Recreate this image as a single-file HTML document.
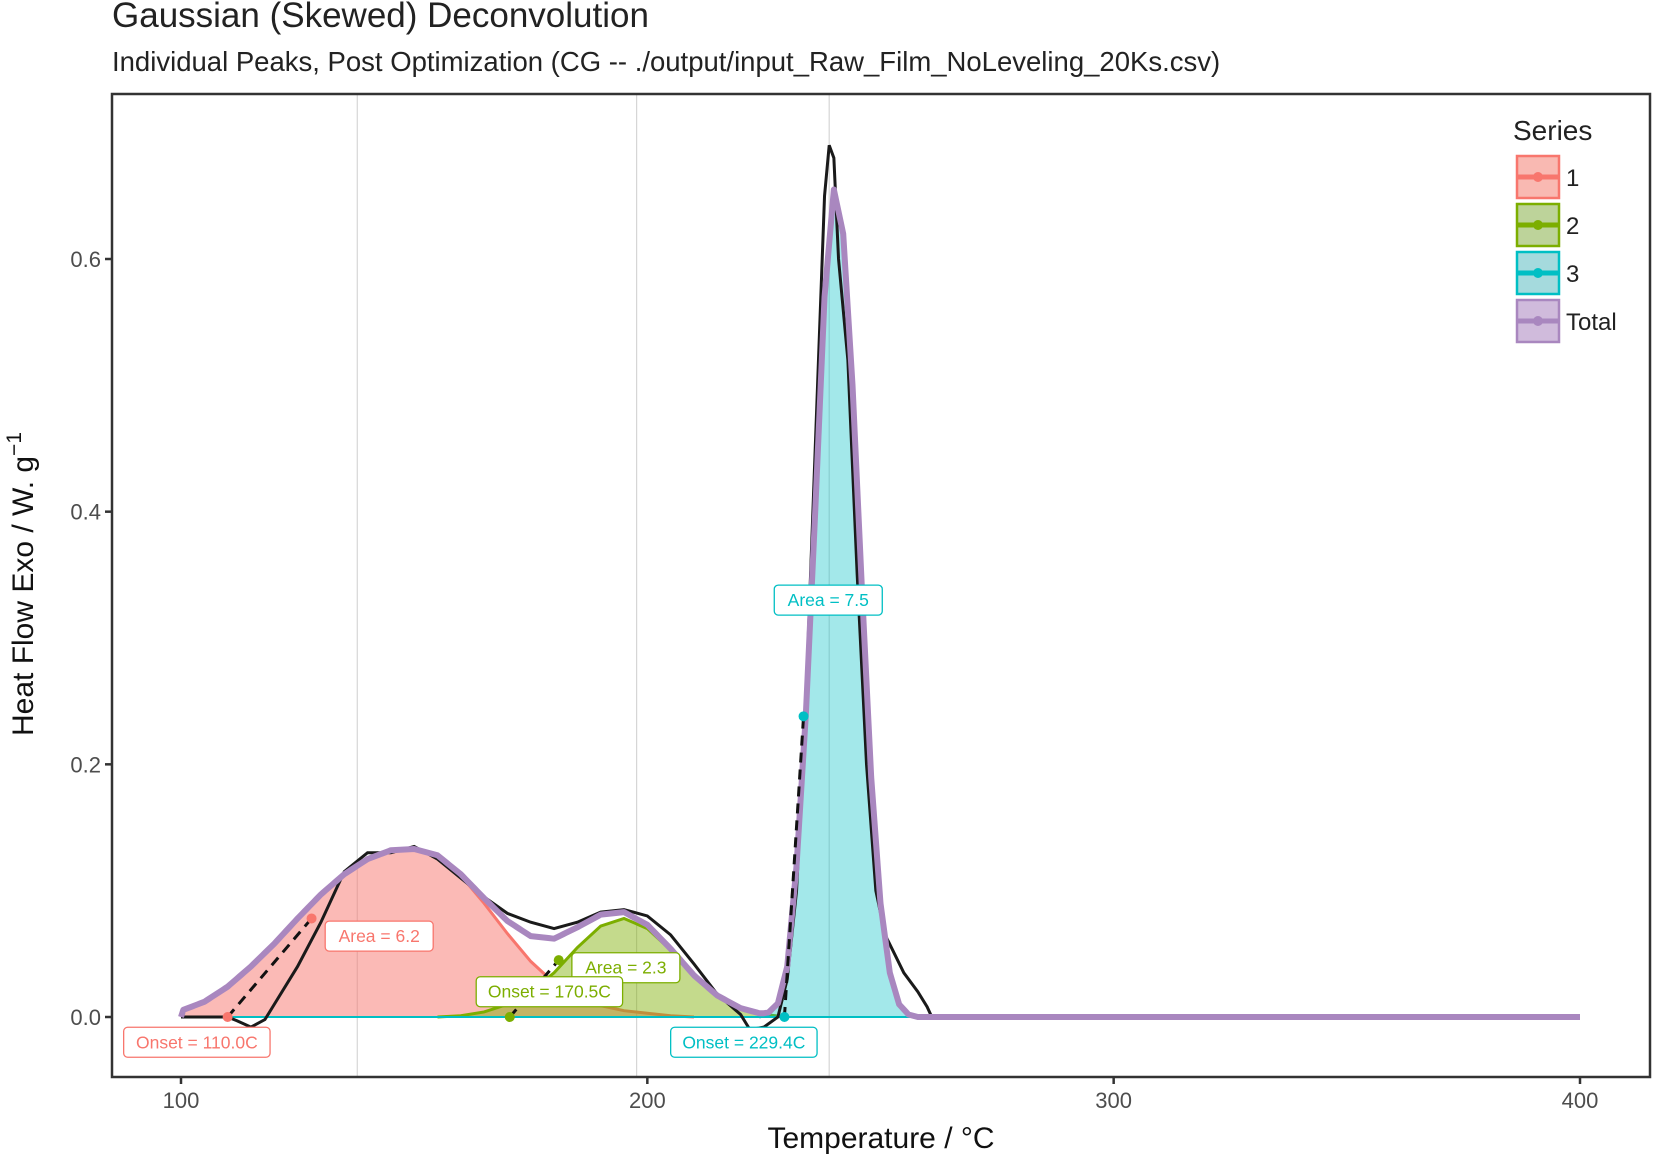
<!DOCTYPE html>
<html><head><meta charset="utf-8"><style>
body{margin:0;background:#fff;}
svg text{font-family:"Liberation Sans",Arial,sans-serif;}
</style></head><body>
<svg id="chart" width="1653" height="1164" xmlns="http://www.w3.org/2000/svg">
<text x="112" y="27" font-size="35" fill="#222">Gaussian (Skewed) Deconvolution</text>
<text x="112" y="71" font-size="27.5" fill="#222">Individual Peaks, Post Optimization (CG -- ./output/input_Raw_Film_NoLeveling_20Ks.csv)</text>
<g id="plot"></g>
<text x="881" y="1148" font-size="30" fill="#111" text-anchor="middle">Temperature / °C</text>
<text transform="translate(33,584) rotate(-90)" font-size="30" fill="#111" text-anchor="middle">Heat Flow Exo / W. g<tspan dy="-12" font-size="21">−1</tspan></text>
</svg>
<script>
const xTicks=[100,200,300,400];
const yTicks=[0,0.2,0.4,0.6];
const yTickLabels=["0.0","0.2","0.4","0.6"];
const gridX=[137.8,197.7,239];
const p1T=[100,105,110,115,120,125,130,135,140,145,150,155,160,165,170,175,180,185,190,195,200,205,210];
const p1V=[0.005,0.012,0.024,0.04,0.058,0.078,0.097,0.113,0.125,0.132,0.133,0.128,0.112,0.09,0.066,0.044,0.027,0.016,0.009,0.005,0.003,0.001,0];
const p2T=[155,160,165,170,175,180,185,190,195,200,205,210,215,220,225,230];
const p2V=[0,0.001,0.004,0.01,0.02,0.035,0.055,0.072,0.078,0.07,0.053,0.033,0.017,0.007,0.002,0];
const p3T=[224,226,228,230,232,234,236,238,240,242,244,246,248,250,252,254,256,258];
const p3V=[0,0.002,0.01,0.04,0.12,0.24,0.4,0.57,0.655,0.62,0.5,0.34,0.19,0.09,0.035,0.01,0.002,0];
const rawT=[100,105,110,112,115,118,120,125,130,135,140,145,150,155,160,165,170,175,180,185,190,195,200,205,210,215,220,222,225,228,230,232,234,236,238,239,240,241,243,245,247,249,251,253,255,258,260,261];
const rawV=[0,0,0,-0.003,-0.008,-0.002,0.01,0.04,0.075,0.115,0.13,0.13,0.135,0.125,0.11,0.095,0.082,0.075,0.07,0.075,0.083,0.085,0.08,0.065,0.042,0.018,0.002,-0.01,-0.008,0,0.03,0.1,0.25,0.45,0.65,0.69,0.68,0.6,0.52,0.35,0.2,0.1,0.065,0.05,0.035,0.02,0.008,0];
const onsetT=[110,170.5,229.4];
const tanEndT=[128,181,233.5];
const tanEndV=[0.078,0.045,0.238];
const areaLabels=["Area = 6.2","Area = 2.3","Area = 7.5"];
const onsetLabels=["Onset = 110.0C","Onset = 170.5C","Onset = 229.4C"];
const areaPosT=[142.5,195.4,238.8], areaPosV=[0.064,0.039,0.33];
const onsetPosT=[103.4,179,220.7], onsetPosV=[-0.02,0.02,-0.02];
const colors=["#F8766D","#7CAE00","#00BFC4"];
const fills=["rgba(248,118,109,0.5)","rgba(124,174,0,0.45)","rgba(0,191,196,0.36)"];
const totalColor="#A987BF";

const L=112,T=94,R=1650,B=1077;
const X=t=>181+(t-100)*(1580-181)/300;
const Y=v=>1017-v*(1017-259)/0.6;
const NS="http://www.w3.org/2000/svg";
const g=document.getElementById('plot');
function mk(tag,attrs,parent){const e=document.createElementNS(NS,tag);for(const k in attrs)e.setAttribute(k,attrs[k]);(parent||g).appendChild(e);return e;}
function interp(ts,vs,t){if(t<=ts[0]||t>=ts[ts.length-1])return 0;for(let i=1;i<ts.length;i++){if(t<=ts[i]){const f=(t-ts[i-1])/(ts[i]-ts[i-1]);return vs[i-1]+f*(vs[i]-vs[i-1]);}}return 0;}

mk('rect',{x:L,y:T,width:R-L,height:B-T,fill:'#fff'});
gridX.forEach(t=>{const l=mk('line',{x1:X(t),x2:X(t),y1:T,y2:B,stroke:'#d6d6d6','stroke-width':1.2});

});

const sets=[[p1T,p1V],[p2T,p2V],[p3T,p3V]];
sets.forEach((s,i)=>{const [ts,vs]=s;
let d=`M${X(ts[0])},${Y(0)}`;ts.forEach((t,j)=>d+=`L${X(t)},${Y(vs[j])}`);d+=`L${X(ts[ts.length-1])},${Y(0)}Z`;
const a=mk('path',{d:d,fill:fills[i],stroke:'none'});


let d2='';ts.forEach((t,j)=>d2+=(j?'L':'M')+X(t)+','+Y(vs[j]));
const ln=mk('path',{d:d2,fill:'none',stroke:colors[i],'stroke-width':3});

});
sets.forEach((s,i)=>{const bl=mk('line',{x1:X(100),x2:X(260),y1:Y(0),y2:Y(0),stroke:colors[i],'stroke-width':2});

});

let dr='';rawT.forEach((t,j)=>dr+=(j?'L':'M')+X(t)+','+Y(rawV[j]));
const raw=mk('path',{d:dr,fill:'none',stroke:'#1a1a1a','stroke-width':3});



let dt='';for(let t=100;t<=400;t+=0.5){const v=interp(p1T,p1V,t)+interp(p2T,p2V,t)+interp(p3T,p3V,t);dt+=(t==100?'M':'L')+X(t)+','+Y(v);}
const tot=mk('path',{d:dt,fill:'none',stroke:totalColor,'stroke-width':6,'stroke-linejoin':'round'});



onsetT.forEach((t,i)=>{const tl=mk('line',{x1:X(t),y1:Y(0),x2:X(tanEndT[i]),y2:Y(tanEndV[i]),stroke:'#111','stroke-width':3,'stroke-dasharray':'10,7'});


const c1=mk('circle',{cx:X(t),cy:Y(0),r:5,fill:colors[i]});


const c2=mk('circle',{cx:X(tanEndT[i]),cy:Y(tanEndV[i]),r:5,fill:colors[i]});

});

function label(txt,t,v,col,name){const w=txt.length*9.6+12;const cx=X(t),cy=Y(v);
const grp=mk('g',{});


mk('rect',{x:cx-w/2,y:cy-15,width:w,height:30,rx:4,fill:'#fff',stroke:col,'stroke-width':1.3},grp);
const tx=mk('text',{x:cx,y:cy+6,'font-size':17.5,fill:col,'text-anchor':'middle'},grp);tx.textContent=txt;}
areaLabels.forEach((s,i)=>label(s,areaPosT[i],areaPosV[i],colors[i],'area-label-'+(i+1)));
onsetLabels.forEach((s,i)=>label(s,onsetPosT[i],onsetPosV[i],colors[i],'onset-label-'+(i+1)));

mk('rect',{x:L,y:T,width:R-L,height:B-T,fill:'none',stroke:'#333','stroke-width':2.5});
xTicks.forEach(t=>{mk('line',{x1:X(t),x2:X(t),y1:B,y2:B+7,stroke:'#333','stroke-width':2.5});
const tx=mk('text',{x:X(t),y:B+31,'font-size':22,fill:'#4d4d4d','text-anchor':'middle'});tx.textContent=t;

});
yTicks.forEach((v,i)=>{mk('line',{x1:L-7,x2:L,y1:Y(v),y2:Y(v),stroke:'#333','stroke-width':2.5});
const tx=mk('text',{x:L-11,y:Y(v)+8,'font-size':22,fill:'#4d4d4d','text-anchor':'end'});tx.textContent=yTickLabels[i];

});

const lg=mk('g',{});


const lt=mk('text',{x:1513,y:140,'font-size':28,fill:'#222'},lg);lt.textContent='Series';
const legNames=["1","2","3","Total"];const legCols=[...colors,totalColor];const legFills=["#F9B9B2","#BDD39A","#A5DADD","#D0BBDC"];
legNames.forEach((n,i)=>{const y=156+i*48;
const e=mk('g',{},lg);


mk('rect',{x:1517,y:y,width:42,height:42,fill:legFills[i],stroke:legCols[i],'stroke-width':2.5},e);
mk('line',{x1:1518,x2:1558,y1:y+21,y2:y+21,stroke:legCols[i],'stroke-width':5},e);
mk('circle',{cx:1538,cy:y+21,r:5,fill:legCols[i]},e);
const t=mk('text',{x:1566,y:y+30,'font-size':24,fill:'#222'},e);t.textContent=n;});
</script>
</body></html>
